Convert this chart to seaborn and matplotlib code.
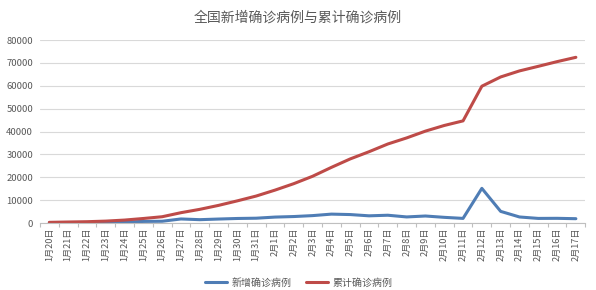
import pandas as pd
import numpy as np
import seaborn as sns
import matplotlib.pyplot as plt
from matplotlib.ticker import FixedLocator

# Dates (categories)
dates = ["1月20日", "1月21日", "1月22日", "1月23日", "1月24日", "1月25日", "1月26日",
         "1月27日", "1月28日", "1月29日", "1月30日", "1月31日", "2月1日", "2月2日",
         "2月3日", "2月4日", "2月5日", "2月6日", "2月7日", "2月8日", "2月9日",
         "2月10日", "2月11日", "2月12日", "2月13日", "2月14日", "2月15日", "2月16日",
         "2月17日"]

# Daily new confirmed cases
new_cases = [77, 149, 131, 259, 444, 688, 769, 1771, 1459, 1737, 1982, 2102, 2590, 2829,
             3235, 3887, 3694, 3143, 3399, 2656, 3062, 2478, 2015, 15152, 5090, 2641,
             2009, 2048, 1886]

# Cumulative confirmed cases
total_cases = [291, 440, 571, 830, 1287, 1975, 2744, 4515, 5974, 7711, 9692, 11791,
               14380, 17205, 20438, 24324, 28018, 31161, 34546, 37198, 40171, 42638,
               44653, 59804, 63851, 66492, 68500, 70548, 72436]

series_names = ["新增确诊病例", "累计确诊病例"]
colors = ["#4F7DB5", "#BE4B48"]

df = pd.DataFrame({"idx": range(len(dates)), "date": dates,
                   series_names[0]: new_cases, series_names[1]: total_cases})
long_df = df.melt(id_vars=["idx", "date"], value_vars=series_names,
                  var_name="series", value_name="cases")

sns.set_theme(style="white")
plt.rcParams['font.family'] = ['Noto Sans CJK SC', 'DejaVu Sans']

fig = plt.figure(figsize=(5.96, 2.9), dpi=100)
ax = fig.add_axes([0.067, 0.231, 0.915, 0.631])

sns.lineplot(data=long_df, x="idx", y="cases", hue="series", hue_order=series_names,
             palette=colors, linewidth=2.2, ax=ax, legend=True)

ax.set_xlim(-0.5, len(dates) - 0.5)
ax.set_ylim(0, 80000)
ax.set_yticks(np.arange(0, 80001, 10000))
ax.yaxis.grid(True, color="#D9D9D9", linewidth=0.8)
ax.set_axisbelow(True)

ax.set_xticks(range(len(dates)))
ax.set_xticklabels(dates, rotation=90, fontsize=6.6, color="#595959")
ax.xaxis.set_minor_locator(FixedLocator(np.arange(-0.5, len(dates), 1)))
ax.tick_params(axis="x", which="major", length=0, pad=3)
ax.tick_params(axis="x", which="minor", length=3, color="#BFBFBF", width=0.8, bottom=True)
ax.tick_params(axis="y", length=0, labelsize=6.8, labelcolor="#595959", pad=5)

for s in ["top", "right", "left"]:
    ax.spines[s].set_visible(False)
ax.spines["bottom"].set_color("#BFBFBF")
ax.spines["bottom"].set_linewidth(0.8)

ax.set_xlabel("")
ax.set_ylabel("")

fig.suptitle("全国新增确诊病例与累计确诊病例", x=0.5, y=0.965, fontsize=10, color="#595959")

leg = ax.legend(loc="upper center", bbox_to_anchor=(0.475, -0.25), ncol=2, frameon=False,
                fontsize=7.2, handlelength=2.2, columnspacing=1.5, handletextpad=0.4)
for t in leg.get_texts():
    t.set_color("#595959")
for l in leg.get_lines():
    l.set_linewidth(2.2)

fig.savefig("out.png", dpi=100)
